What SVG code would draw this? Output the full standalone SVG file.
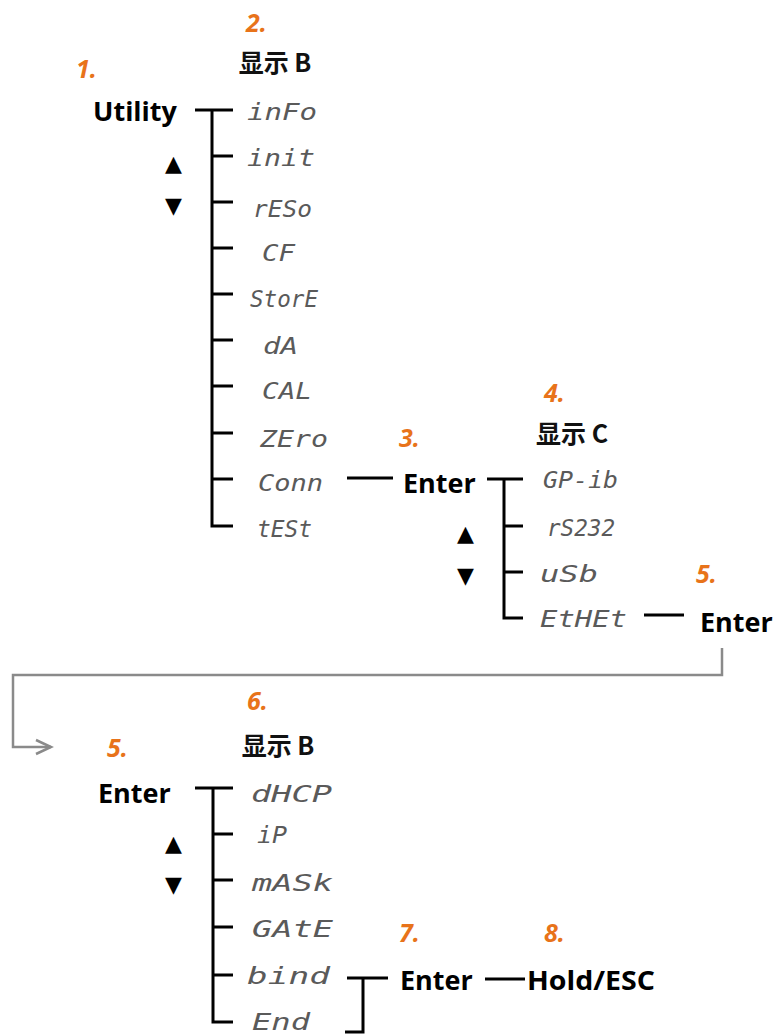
<svg xmlns="http://www.w3.org/2000/svg" width="778" height="1034" viewBox="0 0 778 1034">
<defs>
<style>
.num{font-family:"Open Sans","Liberation Sans",sans-serif;font-weight:bold;font-style:italic;font-size:25px;fill:#E8731A}
.hd{font-family:"Noto Sans CJK SC","Noto Sans",sans-serif;font-weight:bold;font-size:25px;fill:#111}
.key{font-family:"Open Sans","Liberation Sans",sans-serif;font-weight:bold;font-size:27px;fill:#000}
.seg{font-family:"DejaVu Sans Mono","Liberation Mono",monospace;font-style:italic;font-size:23px;fill:#5a5a5a}
.arr{font-family:"DejaVu Sans",sans-serif;font-size:22px;fill:#000}
.ln{fill:none;stroke:#000;stroke-width:3}
.gl{fill:none;stroke:#8a8a8a;stroke-width:2.5}
</style>
</defs>

<g id="connectors">
<path class="ln" d="M195,110 H233 M212,110 V526 H233 M212,156 H233 M212,202 H233 M212,248 H233 M212,294 H233 M212,340 H233 M212,386 H233 M212,433 H233 M212,479 H233"/>
<path class="ln" d="M347,478 H393"/>
<path class="ln" d="M487,479 H523 M504,479 V618 H523 M504,526 H523 M504,572 H523"/>
<path class="ln" d="M644,615 H684"/>
<path class="gl" d="M722,648 V675 H13 V747 H51"/>
<path class="gl" d="M36,740 L51,747 L36,754"/>
<path class="ln" d="M195,788 H233 M213,788 V1022 H233 M213,834 H233 M213,880 H233 M213,927 H233 M213,975 H233"/>
<path class="ln" d="M347,978 H388 M363,978 V1032 H345"/>
<path class="ln" d="M485,979 H525"/>
</g>

<g id="menu-utility">
<text class="num" x="76" y="78">1.</text>
<text class="key" x="93" y="121">Utility</text>
<text class="arr" x="165" y="171">▲</text>
<text class="arr" x="165" y="213">▼</text>
</g>

<g id="display-b1">
<text class="num" x="246" y="32">2.</text>
<text class="hd" x="275" y="72" text-anchor="middle">显示 B</text>
<text class="seg" x="247" y="120" textLength="70" lengthAdjust="spacingAndGlyphs">inFo</text>
<text class="seg" x="247" y="166" textLength="68" lengthAdjust="spacingAndGlyphs">init</text>
<text class="seg" x="253" y="217" textLength="59" lengthAdjust="spacingAndGlyphs">rESo</text>
<text class="seg" x="262" y="261" textLength="33" lengthAdjust="spacingAndGlyphs">CF</text>
<text class="seg" x="250" y="307" textLength="68" lengthAdjust="spacingAndGlyphs">StorE</text>
<text class="seg" x="263" y="354" textLength="35" lengthAdjust="spacingAndGlyphs">dA</text>
<text class="seg" x="262" y="399" textLength="50" lengthAdjust="spacingAndGlyphs">CAL</text>
<text class="seg" x="260" y="447" textLength="68" lengthAdjust="spacingAndGlyphs">ZEro</text>
<text class="seg" x="258" y="491" textLength="65" lengthAdjust="spacingAndGlyphs">Conn</text>
<text class="seg" x="257" y="537" textLength="55" lengthAdjust="spacingAndGlyphs">tESt</text>
</g>

<g id="enter-3">
<text class="num" x="399" y="447">3.</text>
<text class="key" x="403" y="493">Enter</text>
<text class="arr" x="457" y="541">▲</text>
<text class="arr" x="457" y="583">▼</text>
</g>

<g id="display-c">
<text class="num" x="544" y="402">4.</text>
<text class="hd" x="572" y="443" text-anchor="middle">显示 C</text>
<text class="seg" x="543" y="488" textLength="75" lengthAdjust="spacingAndGlyphs">GP-ib</text>
<text class="seg" x="547" y="536" textLength="68" lengthAdjust="spacingAndGlyphs">rS232</text>
<text class="seg" x="540" y="582" textLength="58" lengthAdjust="spacingAndGlyphs">uSb</text>
<text class="seg" x="540" y="627" textLength="87" lengthAdjust="spacingAndGlyphs">EtHEt</text>
</g>

<g id="enter-5a">
<text class="num" x="696" y="583">5.</text>
<text class="key" x="700" y="632">Enter</text>
</g>

<g id="enter-5b">
<text class="num" x="107" y="757">5.</text>
<text class="key" x="98" y="803">Enter</text>
<text class="arr" x="165" y="851">▲</text>
<text class="arr" x="165" y="892">▼</text>
</g>

<g id="display-b2">
<text class="num" x="247" y="710">6.</text>
<text class="hd" x="278" y="755" text-anchor="middle">显示 B</text>
<text class="seg" x="251" y="802" textLength="81" lengthAdjust="spacingAndGlyphs">dHCP</text>
<text class="seg" x="257" y="843" textLength="30" lengthAdjust="spacingAndGlyphs">iP</text>
<text class="seg" x="252" y="891" textLength="81" lengthAdjust="spacingAndGlyphs">mASk</text>
<text class="seg" x="252" y="937" textLength="81" lengthAdjust="spacingAndGlyphs">GAtE</text>
<text class="seg" x="247" y="984" textLength="83" lengthAdjust="spacingAndGlyphs">bind</text>
<text class="seg" x="252" y="1030" textLength="58" lengthAdjust="spacingAndGlyphs">End</text>
</g>

<g id="enter-7">
<text class="num" x="399" y="942">7.</text>
<text class="key" x="400" y="990">Enter</text>
</g>

<g id="hold-esc">
<text class="num" x="544" y="942">8.</text>
<text class="key" x="527" y="990" textLength="128" lengthAdjust="spacingAndGlyphs">Hold/ESC</text>
</g>
</svg>
